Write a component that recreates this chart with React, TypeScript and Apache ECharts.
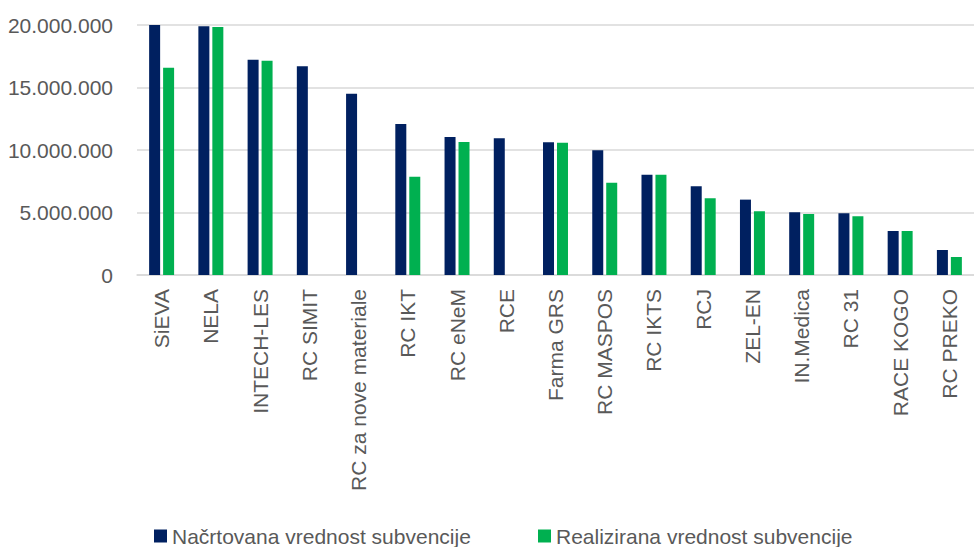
import React, { useEffect, useRef } from "react";
import * as echarts from "echarts";

const categories = [
  "SiEVA",
  "NELA",
  "INTECH-LES",
  "RC SIMIT",
  "RC za nove materiale",
  "RC IKT",
  "RC eNeM",
  "RCE",
  "Farma GRS",
  "RC MASPOS",
  "RC IKTS",
  "RCJ",
  "ZEL-EN",
  "IN.Medica",
  "RC 31",
  "RACE KOGO",
  "RC PREKO",
];

const planned = [
  20000000, 19900000, 17230000, 16700000, 14500000, 12080000, 11040000, 10940000,
  10620000, 9980000, 8030000, 7100000, 6030000, 5020000, 4940000, 3520000, 2000000,
];

const realized = [
  16590000, 19840000, 17150000, null, null, 7870000, 10640000, null,
  10590000, 7390000, 8030000, 6140000, 5100000, 4880000, 4700000, 3520000, 1440000,
];

const seriesNames = ["Načrtovana vrednost subvencije", "Realizirana vrednost subvencije"];
const colors = ["#002060", "#00B050"];

const FONT = "'Liberation Sans', Arial, sans-serif";
const TEXT_COLOR = "#595959";

function fmt(v: number): string {
  return String(Math.round(v)).replace(/\B(?=(\d{3})+(?!\d))/g, ".");
}

export default function App() {
  const ref = useRef<HTMLDivElement>(null);

  useEffect(() => {
    if (!ref.current) return;
    const chart = echarts.init(ref.current, undefined, { renderer: "svg" });
    const legendCommon = {
      top: 519,
      itemWidth: 13,
      itemHeight: 13,
      itemGap: 5,
      icon: "rect",
      textStyle: { fontFamily: FONT, fontSize: 21, color: TEXT_COLOR, lineHeight: 24 },
      selectedMode: false,
    };
    chart.setOption({
      animation: false,
      backgroundColor: "#ffffff",
      textStyle: { fontFamily: FONT },
      legend: [
        { ...legendCommon, left: 149, data: [seriesNames[0]] },
        { ...legendCommon, left: 533, data: [seriesNames[1]] },
      ],
      grid: { left: 137, top: 25, width: 844, height: 250, containLabel: false },
      xAxis: {
        type: "category",
        data: categories,
        axisLine: { show: true, lineStyle: { color: "#D9D9D9", width: 1.5 } },
        axisTick: { show: false },
        axisLabel: {
          rotate: 90,
          interval: 0,
          margin: 14,
          fontFamily: FONT,
          fontSize: 21,
          color: TEXT_COLOR,
        },
      },
      yAxis: {
        type: "value",
        min: 0,
        max: 20000000,
        interval: 5000000,
        axisLine: { show: false },
        axisTick: { show: false },
        splitLine: { lineStyle: { color: "#D9D9D9", width: 1.5 } },
        axisLabel: {
          margin: 24,
          fontFamily: FONT,
          fontSize: 21,
          color: TEXT_COLOR,
          formatter: (v: number) => fmt(v),
        },
      },
      series: [
        {
          name: seriesNames[0],
          type: "bar",
          data: planned,
          barWidth: 11,
          barGap: "27%",
          itemStyle: { color: colors[0] },
        },
        {
          name: seriesNames[1],
          type: "bar",
          data: realized,
          barWidth: 11,
          barGap: "27%",
          itemStyle: { color: colors[1] },
        },
      ],
    });
    return () => chart.dispose();
  }, []);

  return (
    <div
      ref={ref}
      style={{ position: "fixed", left: 0, top: 0, width: 974, height: 547, background: "#fff" }}
    />
  );
}
